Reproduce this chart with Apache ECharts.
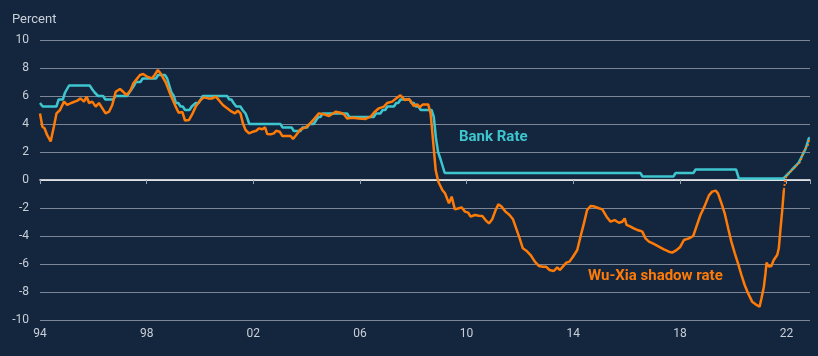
<!DOCTYPE html>
<html><head><meta charset="utf-8">
<script src="https://cdn.jsdelivr.net/npm/echarts@6/dist/echarts.min.js"></script>
<style>html,body{margin:0;padding:0;background:#14263e}#c{width:818px;height:356px}</style>
</head><body><div id="c"></div>
<script>
// ---- data ----
const xTickYears = [1994, 1998, 2002, 2006, 2010, 2014, 2018, 2022];
const yTicks = [-10, -8, -6, -4, -2, 0, 2, 4, 6, 8, 10];

// Bank Rate: date of each change (decimal year) and new rate
const bankRateDates = [1994.0, 1994.1, 1994.7, 1994.94, 1995.09, 1995.95, 1996.05, 1996.18, 1996.45, 1996.83,
  1997.35, 1997.44, 1997.53, 1997.6, 1997.85, 1998.43, 1998.77, 1998.85, 1998.93, 1999.02, 1999.1, 1999.27,
  1999.44, 1999.69, 1999.84, 2000.03, 2000.1, 2001.1, 2001.26, 2001.36, 2001.6, 2001.71, 2001.76, 2001.85,
  2003.1, 2003.52, 2003.85, 2004.1, 2004.35, 2004.44, 2004.6, 2005.6, 2006.6, 2006.85, 2007.03, 2007.36,
  2007.52, 2007.94, 2008.1, 2008.28, 2008.77, 2008.85, 2008.93, 2009.02, 2009.1, 2009.18, 2016.6, 2017.84,
  2018.59, 2020.19, 2020.21, 2021.96, 2022.09, 2022.21, 2022.34, 2022.46, 2022.59, 2022.72, 2022.84];
const bankRateValues = [5.5, 5.25, 5.75, 6.25, 6.75, 6.5, 6.25, 6.0, 5.75, 6.0,
  6.25, 6.5, 6.75, 7.0, 7.25, 7.5, 7.25, 6.75, 6.25, 6.0, 5.5, 5.25,
  5.0, 5.25, 5.5, 5.75, 6.0, 5.75, 5.5, 5.25, 5.0, 4.75, 4.5, 4.0,
  3.75, 3.5, 3.75, 4.0, 4.25, 4.5, 4.75, 4.5, 4.75, 5.0, 5.25, 5.5,
  5.75, 5.5, 5.25, 5.0, 4.5, 3.0, 2.0, 1.5, 1.0, 0.5, 0.25, 0.5,
  0.75, 0.25, 0.1, 0.25, 0.5, 0.75, 1.0, 1.25, 1.75, 2.25, 3.0];
const bankRateEnd = 2022.87;

// Wu-Xia shadow rate
const shadowDates = [1994.0, 1994.09, 1994.17, 1994.27, 1994.4, 1994.52, 1994.62, 1994.75, 1994.9, 1995.02,
  1995.17, 1995.4, 1995.52, 1995.65, 1995.75, 1995.84, 1995.96, 1996.09, 1996.21, 1996.34, 1996.46, 1996.59,
  1996.71, 1996.84, 1997.0, 1997.12, 1997.25, 1997.4, 1997.5, 1997.65, 1997.75, 1997.87, 1998.02, 1998.2,
  1998.3, 1998.42, 1998.52, 1998.71, 1998.9, 1999.09, 1999.2, 1999.34, 1999.44, 1999.59, 1999.71, 1999.84,
  2000.0, 2000.15, 2000.31, 2000.46, 2000.59, 2000.71, 2000.86, 2001.02, 2001.19, 2001.31, 2001.42, 2001.52,
  2001.61, 2001.71, 2001.84, 2001.99, 2002.11, 2002.21, 2002.34, 2002.44, 2002.52, 2002.65, 2002.77, 2002.86,
  2002.99, 2003.09, 2003.27, 2003.4, 2003.49, 2003.61, 2003.77, 2003.94, 2004.09, 2004.27, 2004.46, 2004.65,
  2004.84, 2005.09, 2005.27, 2005.4, 2005.52, 2005.71, 2005.96, 2006.21, 2006.4, 2006.56, 2006.71, 2006.9,
  2007.02, 2007.21, 2007.36, 2007.52, 2007.69, 2007.84, 2008.02, 2008.15, 2008.24, 2008.36, 2008.56, 2008.65,
  2008.74, 2008.84, 2008.94, 2009.09, 2009.19, 2009.34, 2009.44, 2009.56, 2009.71, 2009.81, 2009.94, 2010.06,
  2010.15, 2010.31, 2010.46, 2010.59, 2010.71, 2010.84, 2010.96, 2011.09, 2011.19, 2011.31, 2011.46, 2011.61,
  2011.74, 2011.86, 2011.99, 2012.11, 2012.24, 2012.4, 2012.56, 2012.71, 2012.86, 2012.98, 2013.11, 2013.27,
  2013.4, 2013.49, 2013.61, 2013.74, 2013.86, 2013.99, 2014.15, 2014.27, 2014.4, 2014.52, 2014.65, 2014.8,
  2014.96, 2015.09, 2015.25, 2015.4, 2015.55, 2015.71, 2015.84, 2015.93, 2016.0, 2016.15, 2016.27, 2016.4,
  2016.5, 2016.59, 2016.71, 2016.84, 2017.02, 2017.21, 2017.4, 2017.59, 2017.71, 2017.84, 2018.0, 2018.15,
  2018.34, 2018.5, 2018.62, 2018.77, 2018.92, 2019.09, 2019.21, 2019.34, 2019.43, 2019.56, 2019.68, 2019.81,
  2019.93, 2020.06, 2020.18, 2020.31, 2020.43, 2020.56, 2020.71, 2020.84, 2020.99, 2021.06, 2021.15, 2021.21,
  2021.25, 2021.34, 2021.43, 2021.52, 2021.65, 2021.71, 2021.77, 2021.84, 2021.9];
const shadowValues = [4.75, 3.8, 3.7, 3.2, 2.75, 3.8, 4.76, 5.0, 5.6, 5.36,
  5.5, 5.67, 5.83, 5.6, 5.95, 5.5, 5.6, 5.24, 5.5, 5.12, 4.76, 4.88,
  5.36, 6.3, 6.5, 6.3, 6.07, 6.43, 6.9, 7.26, 7.5, 7.57, 7.38, 7.26,
  7.5, 7.86, 7.62, 7.0, 6.07, 5.24, 4.8, 4.85, 4.25, 4.29, 4.7, 5.24,
  5.67, 5.9, 5.83, 5.83, 5.95, 5.7, 5.36, 5.12, 4.88, 4.76, 4.95, 4.76,
  4.05, 3.57, 3.33, 3.45, 3.52, 3.69, 3.62, 3.76, 3.29, 3.26, 3.33, 3.52,
  3.45, 3.14, 3.14, 3.14, 2.93, 3.21, 3.62, 3.74, 3.95, 4.33, 4.76, 4.69,
  4.57, 4.88, 4.81, 4.69, 4.4, 4.45, 4.4, 4.36, 4.52, 4.88, 5.12, 5.24,
  5.5, 5.6, 5.83, 6.05, 5.71, 5.79, 5.29, 5.4, 5.19, 5.4, 5.4, 4.76,
  2.86, 0.71, -0.12, -0.71, -0.95, -1.67, -1.19, -2.1, -2.02, -1.95, -2.26, -2.33,
  -2.62, -2.5, -2.55, -2.57, -2.86, -3.1, -2.81, -2.14, -1.74, -1.9, -2.26, -2.5,
  -2.81, -3.45, -4.17, -4.88, -5.05, -5.36, -5.83, -6.14, -6.19, -6.19, -6.43, -6.5,
  -6.24, -6.43, -6.19, -5.9, -5.83, -5.48, -5.0, -4.05, -3.1, -2.14, -1.86, -1.9,
  -2.02, -2.1, -2.62, -2.98, -2.86, -3.05, -2.98, -2.74, -3.21, -3.33, -3.45, -3.57,
  -3.62, -3.69, -4.17, -4.4, -4.57, -4.76, -4.95, -5.12, -5.19, -5.05, -4.81, -4.29,
  -4.17, -4.0, -3.33, -2.5, -1.9, -1.1, -0.83, -0.76, -0.95, -1.67, -2.38, -3.45,
  -4.4, -5.24, -5.95, -6.79, -7.5, -8.1, -8.69, -8.88, -9.05, -8.45, -7.62, -6.67,
  -5.9, -6.19, -6.14, -5.71, -5.36, -4.88, -3.57, -2.14, -0.71];

// Shadow rate after lift-off (dotted, equals Bank Rate)
const shadowTailDates = [2021.9, 2021.96, 2022.02, 2022.21, 2022.39, 2022.52, 2022.61, 2022.71, 2022.79, 2022.86];
const shadowTailValues = [-0.71, 0.1, 0.36, 0.71, 1.07, 1.31, 1.9, 2.26, 2.4, 2.98];

// ---- build series data ----
const bankData = [];
for (let i = 0; i < bankRateDates.length; i++) {
  if (i > 0) {
    const s = Math.max(bankRateDates[i - 1], bankRateDates[i] - 1 / 12);
    bankData.push([s, bankRateValues[i - 1]]);
  }
  bankData.push([bankRateDates[i], bankRateValues[i]]);
}
bankData.push([bankRateEnd, bankRateValues[bankRateValues.length - 1]]);
const shadowData = shadowDates.map((d, i) => [d, shadowValues[i]]);
const tailData = shadowTailDates.map((d, i) => [d, shadowTailValues[i]]);

const CYAN = '#3ec6cf', ORANGE = '#ff7b08', TXT = '#c9cfd8', GRID = '#7c8696';
const chart = echarts.init(document.getElementById('c'), null, {renderer: 'canvas'});
const xMin = xTickYears[0], xMax = 2022.88;
chart.setOption({
  backgroundColor: '#14263e',
  animation: false,
  grid: {left: 40, right: 8, top: 40, bottom: 36, containLabel: false},
  xAxis: [{
    type: 'value', min: xMin, max: xMax, interval: 4, position: 'bottom',
    axisLine: {show: false, onZero: false}, axisTick: {show: false}, splitLine: {show: false},
    axisLabel: {color: TXT, fontSize: 12, fontFamily: 'Roboto', margin: 8,
      formatter: v => xTickYears.includes(v) ? String(v % 100).padStart(2, '0') : ''}
  }, {
    type: 'value', min: xMin, max: xMax, interval: 4, position: 'bottom',
    axisLine: {show: true, onZero: true, lineStyle: {color: '#ffffff', width: 1.5}},
    axisTick: {show: true, length: 4, lineStyle: {color: '#9aa3b0', width: 1}},
    axisLabel: {show: false}, splitLine: {show: false}
  }],
  yAxis: {
    type: 'value', min: yTicks[0], max: yTicks[yTicks.length - 1], interval: 2,
    axisLine: {show: false}, axisTick: {show: false},
    splitLine: {lineStyle: {color: GRID, width: 1}},
    axisLabel: {color: TXT, fontSize: 12, fontFamily: 'Roboto', margin: 11}
  },
  graphic: [
    {type: 'text', left: 12, top: 13, style: {text: 'Percent', fill: TXT, font: '13px Roboto'}},
    {type: 'text', left: 459, top: 130, style: {text: 'Bank Rate', fill: CYAN, font: 'bold 15px Roboto'}},
    {type: 'text', left: 588, top: 269, style: {text: 'Wu-Xia shadow rate', fill: ORANGE, font: 'bold 15px Roboto'}}
  ],
  series: [
    {type: 'line', name: 'Bank Rate', data: bankData, showSymbol: false, xAxisIndex: 0,
      lineStyle: {color: CYAN, width: 2.5}, z: 2},
    {type: 'line', name: 'Wu-Xia shadow rate', data: shadowData, showSymbol: false, xAxisIndex: 0,
      lineStyle: {color: ORANGE, width: 2.5}, z: 3},
    {type: 'line', name: 'Shadow tail', data: tailData, showSymbol: false, xAxisIndex: 0,
      lineStyle: {color: ORANGE, width: 2, type: [2, 2]}, z: 4}
  ]
});
</script></body></html>
